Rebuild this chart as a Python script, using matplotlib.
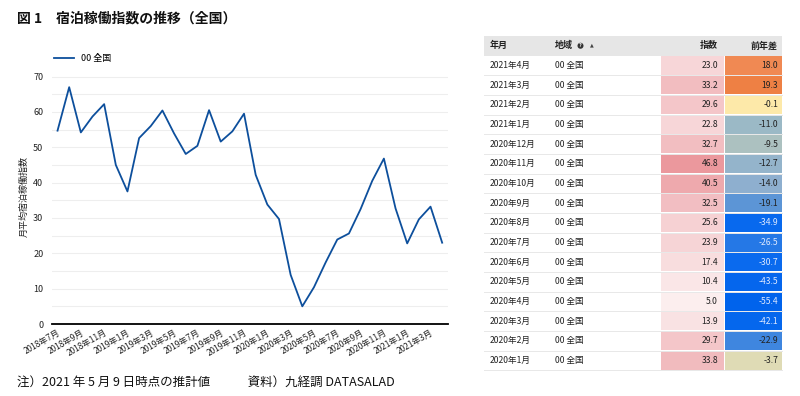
import matplotlib
matplotlib.use("Agg")
import matplotlib.pyplot as plt
from matplotlib.colors import LinearSegmentedColormap, Normalize
from matplotlib.patches import Rectangle, Circle

plt.rcParams['font.family'] = ['Noto Sans CJK JP', 'DejaVu Sans']

# monthly index, 2018-07 .. 2021-04
months = ['2018年7月', '2018年8月', '2018年9月', '2018年10月', '2018年11月', '2018年12月',
          '2019年1月', '2019年2月', '2019年3月', '2019年4月', '2019年5月', '2019年6月',
          '2019年7月', '2019年8月', '2019年9月', '2019年10月', '2019年11月', '2019年12月',
          '2020年1月', '2020年2月', '2020年3月', '2020年4月', '2020年5月', '2020年6月',
          '2020年7月', '2020年8月', '2020年9月', '2020年10月', '2020年11月', '2020年12月',
          '2021年1月', '2021年2月', '2021年3月', '2021年4月']
index_values = [54.7, 67.0, 54.2, 58.7, 62.2, 45.0,
                37.5, 52.6, 56.0, 60.4, 53.9, 48.1,
                50.4, 60.5, 51.6, 54.5, 59.5, 42.2,
                33.8, 29.7, 13.9, 5.0, 10.4, 17.4,
                23.9, 25.6, 32.5, 40.5, 46.8, 32.7,
                22.8, 29.6, 33.2, 23.0]

# table (newest first)
table_months = ['2021年4月', '2021年3月', '2021年2月', '2021年1月', '2020年12月', '2020年11月',
                '2020年10月', '2020年9月', '2020年8月', '2020年7月', '2020年6月', '2020年5月',
                '2020年4月', '2020年3月', '2020年2月', '2020年1月']
table_region = ['00 全国'] * 16
table_index = [23.0, 33.2, 29.6, 22.8, 32.7, 46.8, 40.5, 32.5, 25.6, 23.9, 17.4, 10.4,
               5.0, 13.9, 29.7, 33.8]
table_diff = [18.0, 19.3, -0.1, -11.0, -9.5, -12.7, -14.0, -19.1, -34.9, -26.5, -30.7, -43.5,
              -55.4, -42.1, -22.9, -3.7]

fig = plt.figure(figsize=(8, 3.96), dpi=100)

# ---- title / footer
fig.text(17 / 800, 1 - 18 / 396, '図 1　宿泊稼働指数の推移（全国）', fontsize=10,
         fontweight='bold', va='center', ha='left', color='#111111')
fig.text(17 / 800, 1 - 382 / 396, '注）2021 年 5 月 9 日時点の推計値　　　資料）九経調 DATASALAD',
         fontsize=9, va='center', ha='left', color='#111111')

# ---- line chart
ax = fig.add_axes([51.7 / 800, 1 - 324 / 396, (448 - 51.7) / 800, (324 - 69.5) / 396])
x = list(range(len(months)))
ax.plot(x, index_values, color='#0d4f9c', lw=1.3, label='00 全国')
ax.set_xlim(-0.5, len(months) - 0.5)
ax.set_ylim(0, 72)
ax.set_yticks(range(0, 71, 10))
ax.set_yticks(range(5, 71, 10), minor=True)
ax.grid(axis='y', which='both', color='#eeeeee', lw=0.8)
ax.set_axisbelow(True)
ax.tick_params(axis='y', which='both', length=0, labelsize=6.5, colors='#222222', pad=6)
ax.set_xticks(x[::2])
ax.set_xticklabels(months[::2], rotation=30, ha='right', rotation_mode='anchor', fontsize=6)
ax.tick_params(axis='x', length=0, pad=3, colors='#222222')
for s in ['left', 'right', 'top']:
    ax.spines[s].set_visible(False)
ax.spines['bottom'].set_color('black')
ax.spines['bottom'].set_linewidth(1.3)
ax.set_ylabel('月平均宿泊稼働指数', fontsize=6.5, labelpad=3, color='#222222')
ax.legend(loc='lower left', bbox_to_anchor=(-0.01, 1.0), frameon=False, fontsize=6.5,
          handlelength=2.2, borderaxespad=0.3)

# ---- table
tab = fig.add_axes([0, 0, 1, 1])
tab.set_xlim(0, 800)
tab.set_ylim(396, 0)
tab.axis('off')

idx_cmap = LinearSegmentedColormap.from_list('idx', ['#fdf4f4', '#f6d3d5', '#e98f95'])
idx_norm = Normalize(0, 50)
d_lo, d_hi = -55.4, 19.3
diff_anchors = [(-55.4, '#0063ec'), (-30.0, '#0a6aee'), (-22.9, '#3f86df'),
                (-19.1, '#5c95d6'), (-14.0, '#8fb0cf'), (-11.0, '#9ab8c7'),
                (-9.5, '#abc1c0'), (-3.7, '#dedab6'), (-0.1, '#fde9a9'),
                (18.0, '#f08a55'), (19.3, '#ee8044')]
diff_cmap = LinearSegmentedColormap.from_list(
    'diff', [((v - d_lo) / (d_hi - d_lo), c) for v, c in diff_anchors])
diff_norm = Normalize(d_lo, d_hi)

x0, x1 = 484, 782
ci0, ci1 = 661, 723.5
cd0, cd1 = 724.5, 782
head_top, head_bot = 36, 55.5
row_h = 19.67

tab.add_patch(Rectangle((x0, head_top), x1 - x0, head_bot - head_top, color='#e6e6e6', lw=0))
hy = (head_top + head_bot) / 2
tab.text(490, hy, '年月', fontsize=6.5, fontweight='bold', va='center', ha='left', color='#222')
tab.text(555, hy, '地域', fontsize=6.5, fontweight='bold', va='center', ha='left', color='#222')
tab.add_patch(Circle((580.5, hy), 3.0, color='#333333', lw=0))
tab.text(580.5, hy, '?', fontsize=3.8, color='white', va='center', ha='center', fontweight='bold')
tab.text(592, hy - 0.5, '▲', fontsize=3.5, color='#444', va='center', ha='center', family='DejaVu Sans')
tab.text(718, hy, '指数', fontsize=6.5, fontweight='bold', va='center', ha='right', color='#222')
tab.text(778, hy, '前年差', fontsize=6.5, fontweight='bold', va='center', ha='right', color='#222')

for i in range(len(table_months)):
    top = head_bot + i * row_h
    cy = top + row_h / 2
    tab.add_patch(Rectangle((ci0, top + 0.4), ci1 - ci0, row_h - 0.8,
                            color=idx_cmap(idx_norm(table_index[i])), lw=0))
    tab.add_patch(Rectangle((cd0, top + 0.4), cd1 - cd0, row_h - 0.8,
                            color=diff_cmap(diff_norm(table_diff[i])), lw=0))
    tab.plot([x0, x1], [top + row_h, top + row_h], color='#e8e8e8', lw=0.7)
    tab.text(490, cy, table_months[i], fontsize=6.2, va='center', ha='left', color='#222')
    tab.text(555, cy, table_region[i], fontsize=6.2, va='center', ha='left', color='#222')
    tab.text(718, cy, f'{table_index[i]:.1f}', fontsize=6.2, va='center', ha='right', color='#222')
    tcol = '#dfe9ff' if table_diff[i] < -25 else '#222'
    tab.text(778, cy, f'{table_diff[i]:.1f}', fontsize=6.2, va='center', ha='right', color=tcol)

fig.savefig('out.png', dpi=100, facecolor='white')
